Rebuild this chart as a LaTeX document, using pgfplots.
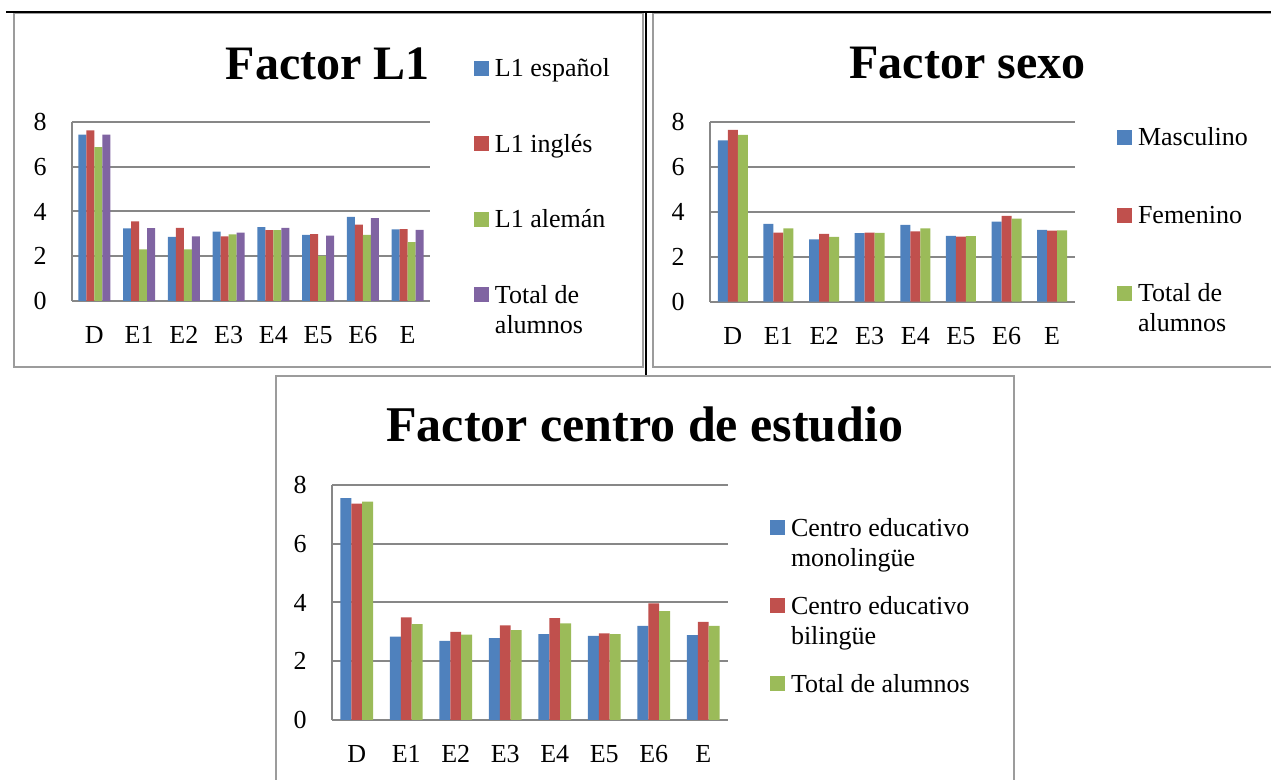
\documentclass[border=0pt]{standalone}
\usepackage{fontspec}
\setmainfont{Liberation Serif}
\usepackage{pgfplots}
\pgfplotsset{compat=1.18}
\definecolor{cblue}{HTML}{4F81BD}
\definecolor{cred}{HTML}{C0504D}
\definecolor{cgreen}{HTML}{9BBB59}
\definecolor{cpurple}{HTML}{8064A2}
\definecolor{gridgray}{HTML}{878787}
\definecolor{framegray}{HTML}{9C9C9C}
\pgfplotsset{
  excelbar/.style={
    ybar=0pt,
    scale only axis,
    xmin=-0.5, xmax=7.5,
    ymin=0, ymax=8,
    ytick={0,2,4,6,8},
    xtick={0,...,7},
    xticklabels={D,E1,E2,E3,E4,E5,E6,E},
    enlargelimits=false,
    axis lines*=left,
    axis line style={draw=gridgray, line width=1pt},
    ymajorgrids,
    grid style={draw=gridgray, line width=1pt},
    major tick length=0pt,
    /pgf/number format/assume math mode=true,
    tick label style={font=\fontsize{13}{15}\selectfont, inner sep=0pt},
    xticklabel style={anchor=base, yshift=-21.5pt},
    yticklabel style={anchor=east, xshift=-12.5pt},
    legend style={draw=none, fill=none, inner sep=0pt, outer sep=0pt,
      anchor=north west, column sep=3pt,
      font=\fontsize{13}{15}\selectfont,
      nodes={inner sep=0pt, anchor=base west, text height=9.5pt, text depth=3pt,
        text width=100pt, align=flush left}},
    legend image code/.code={\path[#1,draw=none] (0pt,0.5pt) rectangle (7.5pt,8pt);},
    every axis title shift=0pt,
    title style={anchor=base, inner sep=0pt, yshift=0pt, font=\fontsize{24}{28}\selectfont\bfseries},
    every axis plot/.append style={draw=none},
  }
}
\begin{document}
\begin{tikzpicture}
\useasboundingbox (0pt,0pt) rectangle (635.5pt,390pt);
% frames
\draw[framegray, line width=0.9pt] (7pt,383.3pt) rectangle (321.5pt,206.5pt);
\draw[framegray, line width=0.9pt] (645pt,383.3pt) -- (326.5pt,383.3pt) -- (326.5pt,206.5pt) -- (645pt,206.5pt);
\draw[framegray, line width=0.9pt] (138pt,-5pt) -- (138pt,202pt) -- (507pt,202pt) -- (507pt,-5pt);
\draw[black, line width=0.8pt] (3pt,384pt) -- (645pt,384pt);
\draw[black, line width=1pt] (322.75pt,384.4pt) -- (322.75pt,202.5pt);

% Chart 1: Factor L1
\begin{axis}[excelbar,
  at={(36pt,239.5pt)}, anchor=south west,
  width=179pt, height=89.5pt,
  bar width=0.18,
  title={Factor L1},
  title style={at={(axis description cs:0.715,1.240)}},
  legend style={at={(axis description cs:1.1229,1.3575)}, row sep=25.2pt},
]
\addplot[fill=cblue] coordinates {(0,7.43) (1,3.24) (2,2.87) (3,3.10) (4,3.30) (5,2.95) (6,3.76) (7,3.20)};
\addlegendentry{L1 español}
\addplot[fill=cred] coordinates {(0,7.63) (1,3.56) (2,3.27) (3,2.89) (4,3.17) (5,2.99) (6,3.41) (7,3.21)};
\addlegendentry{L1 inglés}
\addplot[fill=cgreen] coordinates {(0,6.88) (1,2.31) (2,2.31) (3,2.98) (4,3.17) (5,2.02) (6,2.96) (7,2.63)};
\addlegendentry{L1 alemán}
\addplot[fill=cpurple] coordinates {(0,7.43) (1,3.26) (2,2.89) (3,3.05) (4,3.27) (5,2.92) (6,3.70) (7,3.18)};
\addlegendentry{Total de\\alumnos}
\end{axis}

% Chart 2: Factor sexo
\begin{axis}[excelbar,
  at={(355pt,239.2pt)}, anchor=south west,
  width=182.5pt, height=89.7pt,
  bar width=0.219,
  title={Factor sexo},
  title style={at={(axis description cs:0.7058,1.2408)}},
  legend style={at={(axis description cs:1.1151,0.9732)}, row sep=26.5pt},
]
\addplot[fill=cblue] coordinates {(0,7.19) (1,3.47) (2,2.77) (3,3.05) (4,3.42) (5,2.93) (6,3.57) (7,3.20)};
\addlegendentry{Masculino}
\addplot[fill=cred] coordinates {(0,7.66) (1,3.07) (2,3.02) (3,3.08) (4,3.13) (5,2.90) (6,3.82) (7,3.17)};
\addlegendentry{Femenino}
\addplot[fill=cgreen] coordinates {(0,7.43) (1,3.26) (2,2.89) (3,3.06) (4,3.27) (5,2.92) (6,3.70) (7,3.18)};
\addlegendentry{Total de\\alumnos}
\end{axis}

% Chart 3: Factor centro de estudio
\begin{axis}[excelbar,
  at={(166pt,30pt)}, anchor=south west,
  width=198pt, height=117.5pt,
  bar width=0.222,
  title={Factor centro de estudio},
  title style={at={(axis description cs:0.790,1.187)}, font=\fontsize{25}{29}\selectfont\bfseries},
  legend style={at={(axis description cs:1.1061,0.8638)}, row sep=26.5pt},
]
\addplot[fill=cblue] coordinates {(0,7.55) (1,2.84) (2,2.69) (3,2.79) (4,2.92) (5,2.86) (6,3.20) (7,2.89)};
\addlegendentry{Centro educativo\\monolingüe}
\addplot[fill=cred] coordinates {(0,7.37) (1,3.49) (2,3.00) (3,3.22) (4,3.47) (5,2.95) (6,3.97) (7,3.34)};
\addlegendentry{Centro educativo\\bilingüe}
\addplot[fill=cgreen] coordinates {(0,7.43) (1,3.26) (2,2.91) (3,3.06) (4,3.29) (5,2.92) (6,3.71) (7,3.20)};
\addlegendentry{Total de alumnos}
\end{axis}
\end{tikzpicture}
\end{document}
